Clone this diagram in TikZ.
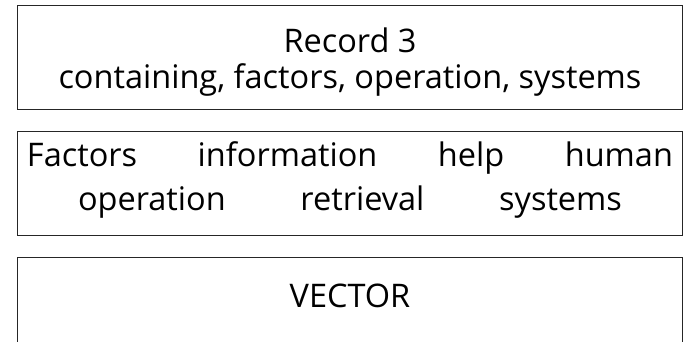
\documentclass[tikz,border=0pt]{standalone}
\usepackage{fontspec}
\setmainfont{Open Sans}
\begin{document}
\begin{tikzpicture}[x=1pt,y=-1pt,
  box/.style={draw=black!85, line width=1.2pt, anchor=north west, inner sep=0pt, minimum width=665pt},
  txt/.style={inner sep=0pt, anchor=base, font=\fontsize{32.5}{36}\selectfont}]
\useasboundingbox (0,0) rectangle (689,342);
\node[box, minimum height=104pt] (b1) at (17,5) {};
\node[box, minimum height=104pt] (b2) at (17,131) {};
\node[box, minimum height=130pt] (b3) at (17,257) {};
\node[txt] (t1) at (350,53) {Record 3};
\node[txt] (t2) at (350,89) {containing, factors, operation, systems};
\node[txt] (t3) at (350,167) {\makebox[646pt][s]{Factors\hfill information\hfill help\hfill human}};
\node[txt] (t4) at (350,211) {\makebox[544pt][s]{operation\hfill retrieval\hfill systems}};
\node[txt] (t5) at (350,307) {VECTOR};
\end{tikzpicture}
\end{document}
